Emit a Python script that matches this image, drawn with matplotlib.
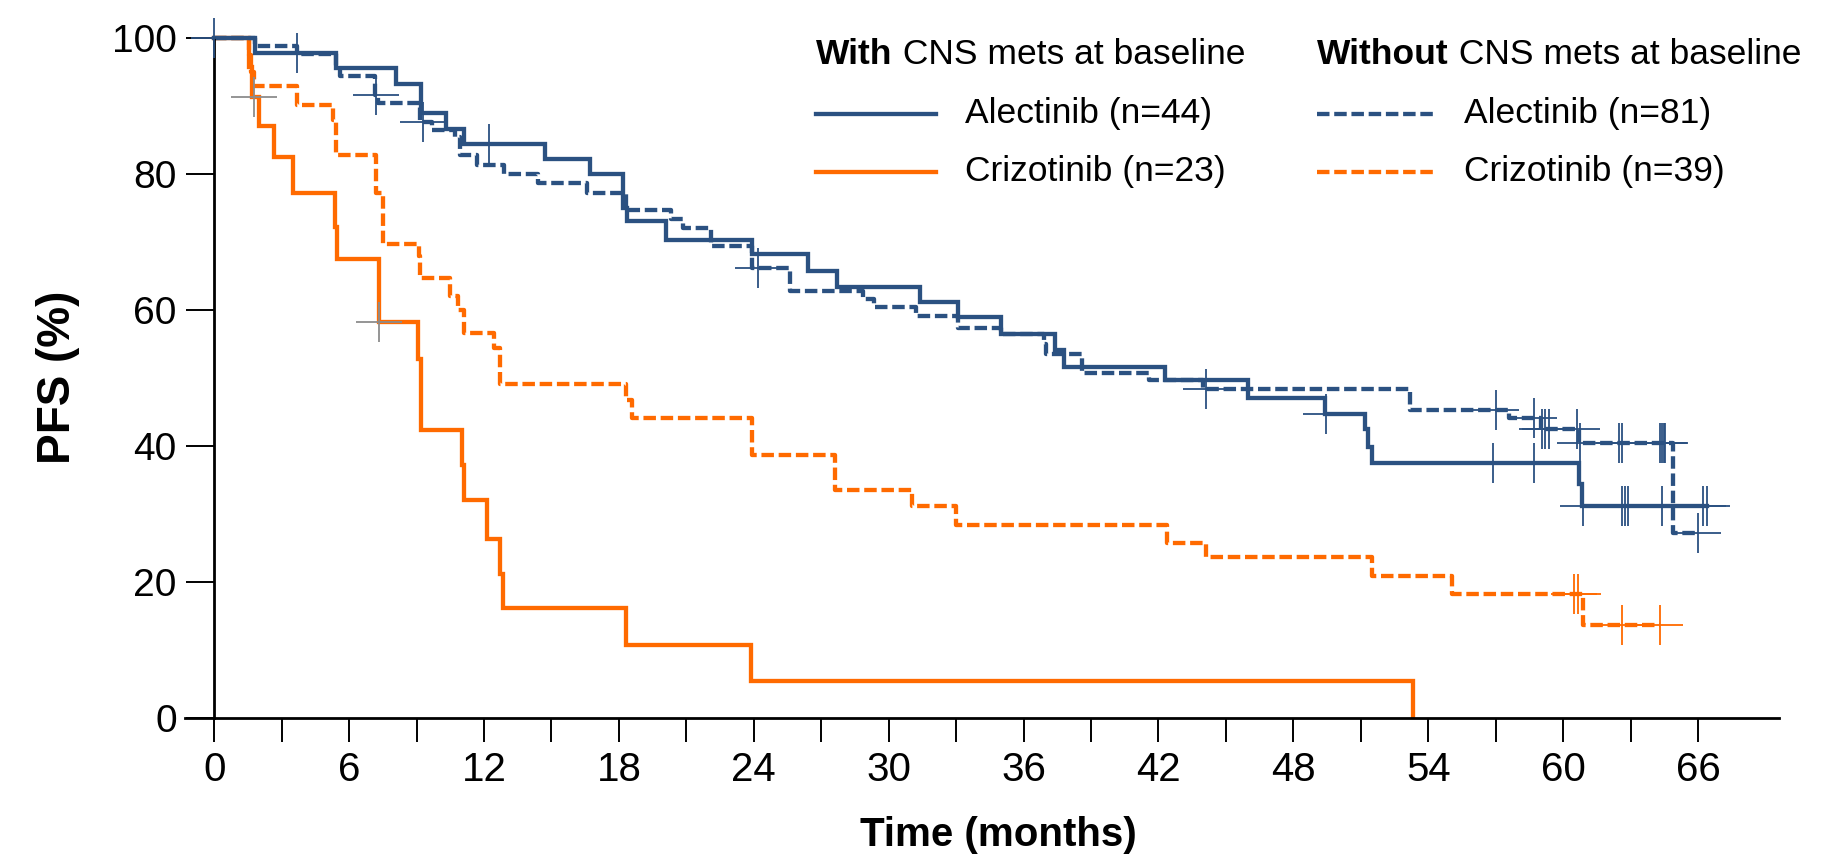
import numpy as np
import matplotlib.pyplot as plt
from matplotlib.lines import Line2D

# Kaplan-Meier PFS, step times (months) and survival after each step (%)
alec_cns_t = [0, 1.8, 5.4, 8.1, 9.2, 10.3, 11.1, 14.7, 16.7, 18.2, 18.35, 20.1, 23.9, 26.4,
              27.7, 31.4, 33.1, 35.0, 37.4, 37.8, 42.3, 46.0, 49.4, 51.2, 51.3, 51.5, 60.7, 60.85]
alec_cns_s = [100, 97.7, 95.5, 93.2, 88.9, 86.6, 84.4, 82.2, 79.9, 74.9, 73.0, 70.2, 68.2, 65.7,
              63.3, 61.1, 58.9, 56.4, 54.0, 51.5, 49.7, 47.0, 44.6, 42.4, 39.8, 37.4, 34.4, 31.1]
alec_cns_end = 66.4
alec_cns_cens = [0, 3.7, 12.2, 49.45, 56.9, 58.7, 60.9, 62.6, 62.75, 62.9, 64.4, 66.2, 66.4]

alec_nocns_t = [0, 1.8, 3.7, 5.4, 5.6, 7.15, 7.3, 9.15, 9.7, 10.7, 10.95, 11.7, 12.9, 14.4, 16.6,
                18.3, 20.3, 20.85, 22.1, 23.9, 25.6, 28.85, 29.35, 31.2, 33.1, 35.0, 36.9, 37.0,
                38.6, 41.6, 44.0, 53.2, 57.6, 59.0, 60.7, 64.9]
alec_nocns_s = [100, 98.8, 97.6, 95.9, 94.3, 91.6, 90.3, 87.6, 86.4, 85.4, 82.7, 81.2, 79.9, 78.6, 77.2,
                74.7, 73.3, 72.0, 69.4, 66.1, 62.7, 61.6, 60.3, 59.1, 57.3, 56.4, 54.9, 53.4,
                50.7, 49.7, 48.3, 45.2, 44.0, 42.5, 40.4, 27.2]
alec_nocns_end = 66.0
alec_nocns_cens = [7.2, 9.3, 24.2, 44.1, 57.0, 58.7, 59.05, 59.2, 59.35, 60.6, 60.75,
                   62.5, 62.6, 64.3, 64.4, 64.5, 64.55, 66.0]

criz_cns_t = [0, 1.55, 1.7, 2.0, 2.65, 3.5, 5.38, 5.47, 7.35, 9.05, 9.2, 11.0, 11.1, 12.15,
              12.7, 12.86, 18.3, 23.87, 53.3]
criz_cns_s = [100, 95.7, 91.3, 87.0, 82.5, 77.2, 72.2, 67.5, 58.1, 52.7, 42.3, 37.1, 32.0, 26.3,
              21.1, 16.1, 10.7, 5.4, 0]
criz_cns_end = 53.3
criz_cns_cens = [1.75, 7.35]

criz_nocns_t = [0, 1.55, 1.65, 1.75, 3.7, 5.3, 5.4, 7.2, 7.5, 9.1, 9.15, 10.5, 10.86, 11.1,
                12.45, 12.7, 18.3, 18.6, 23.9, 27.6, 31.05, 33.0, 42.4, 44.1, 51.5, 55.05, 60.9]
criz_nocns_s = [100, 97.4, 94.9, 92.9, 90.1, 87.9, 82.7, 77.1, 69.7, 67.8, 64.6, 62.0, 59.9, 56.6,
                54.3, 49.1, 46.7, 44.0, 38.6, 33.5, 31.1, 28.3, 25.6, 23.6, 20.8, 18.2, 13.6]
criz_nocns_end = 64.3
criz_nocns_cens = [60.5, 60.66, 62.6, 64.3]

x_ticks = list(range(0, 67, 6))
y_ticks = [0, 20, 40, 60, 80, 100]

BLUE = '#2b5181'
ORANGE = '#ff6a00'
GREY = '#8c8c8c'
LW = 3.1
DASH = (2.9, 1.1)

plt.rcParams['font.family'] = ['Liberation Sans', 'DejaVu Sans']

fig = plt.figure(figsize=(18.35, 8.58), dpi=100)
ax = fig.add_axes([185 / 1835, 140.5 / 858, 1594 / 1835, 700.4 / 858])


def km_curve(t, s, end, cens, color, dashed, cens_color):
    tt = np.append(t, end)
    ss = np.append(s, s[-1])
    line, = ax.step(tt, ss, color=color, lw=LW, where='post', solid_joinstyle='miter')
    if dashed:
        line.set_dashes(DASH)
    c = np.asarray(cens)
    idx = np.searchsorted(t, c, side='right') - 1
    cy = np.asarray(s)[idx]
    ax.plot(c, cy, ls='none', marker='_', ms=33, mew=1.3, color=cens_color, zorder=4)
    ax.plot(c, cy, ls='none', marker='|', ms=29, mew=1.3, color=cens_color, zorder=4)


km_curve(criz_nocns_t, criz_nocns_s, criz_nocns_end, criz_nocns_cens, ORANGE, True, ORANGE)
km_curve(criz_cns_t, criz_cns_s, criz_cns_end, criz_cns_cens, ORANGE, False, GREY)
km_curve(alec_nocns_t, alec_nocns_s, alec_nocns_end, alec_nocns_cens, BLUE, True, BLUE)
km_curve(alec_cns_t, alec_cns_s, alec_cns_end, alec_cns_cens, BLUE, False, BLUE)

ax.set_xlim(-1.3, 69.6)
ax.set_ylim(0, 103)
for side in ('top', 'right'):
    ax.spines[side].set_visible(False)
ax.spines['left'].set_position(('data', 0))
ax.spines['left'].set_bounds(0, 100)
for side in ('left', 'bottom'):
    ax.spines[side].set_linewidth(2)

ax.set_xticks(x_ticks)
ax.set_xticks([v for v in range(3, 67, 3) if v % 6], minor=True)
ax.set_yticks(y_ticks)
ax.tick_params(axis='x', which='both', direction='out', length=17, width=1.4, pad=7, labelsize=29)
ax.tick_params(axis='y', direction='out', length=20, width=1.4, pad=7, labelsize=28)

ax.set_xlabel('Time (months)', fontsize=29, fontweight='bold')
ax.xaxis.set_label_coords(0.51, -0.14)
ax.set_ylabel('PFS (%)', fontsize=33, fontweight='bold')
ax.yaxis.set_label_coords(-0.066, 0.485)


# legend, two groups side by side
def fx(px):
    return px / 1835


def fy(py):
    return 1 - py / 858


for x0, head in ((816, 'With'), (1317, 'Without')):
    h = fig.text(fx(x0), fy(55), head, fontsize=25.5, fontweight='bold', va='center')
    ax.annotate(' CNS mets at baseline', xy=(1, 0), xycoords=h, fontsize=25.5,
                va='bottom', ha='left')

rows = [
    (816, 965, 113.5, BLUE, False, 'Alectinib (n=44)'),
    (816, 965, 172, ORANGE, False, 'Crizotinib (n=23)'),
    (1317, 1464, 113.5, BLUE, True, 'Alectinib (n=81)'),
    (1317, 1464, 172, ORANGE, True, 'Crizotinib (n=39)'),
]
for x0, xt, y, col, dashed, label in rows:
    ln = Line2D([fx(x0), fx(x0 + 120)], [fy(y), fy(y)], color=col, lw=LW,
                transform=fig.transFigure)
    if dashed:
        ln.set_dashes(DASH)
    fig.add_artist(ln)
    fig.text(fx(xt), fy(y), label, fontsize=25.5, va='center')

fig.savefig('out.png', dpi=100)
